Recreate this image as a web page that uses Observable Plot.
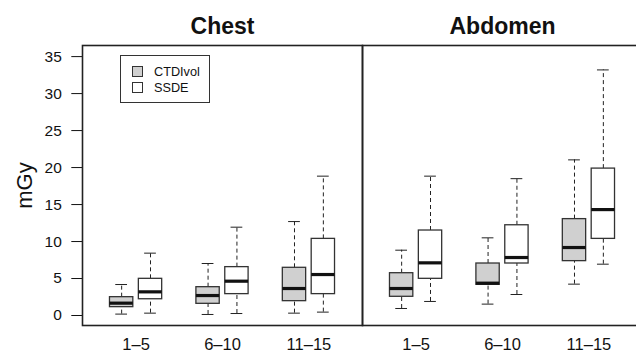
<!DOCTYPE html>
<html><head><meta charset="utf-8">
<script src="https://cdn.jsdelivr.net/npm/d3@7"></script>
<script src="https://cdn.jsdelivr.net/npm/@observablehq/plot@0.6"></script>
<style>
html,body{margin:0;padding:0;overflow:hidden;background:#fff;}
#wrap{position:relative;width:636px;height:354px;overflow:hidden;font-family:"Liberation Sans",Arial,Helvetica,sans-serif;color:#111;}
#chart svg{max-width:none !important;}
#legend{position:absolute;left:120px;top:55px;width:90px;height:48px;border:1px solid #333;box-sizing:border-box;background:#fff;font-size:12.7px;}
.sw{position:absolute;left:11px;width:11px;height:11px;border:1px solid #333;box-sizing:border-box;}
.lt{position:absolute;left:33px;line-height:14px;}
</style></head><body><div id="wrap"><div id="chart"></div><div id="legend"></div></div>
<script>
const panels = ["Chest", "Abdomen"];
const groups = ["1–5", "6–10", "11–15"];
const seriesNames = ["CTDIvol", "SSDE"];
const seriesFill = ["#d0d0d0", "#ffffff"];
const yTicks = [0, 5, 10, 15, 20, 25, 30, 35];
// five-number summaries per age group: [lower whisker, Q1, median, Q3, upper whisker]
const chestCTDIvol = [[0.19, 1.13, 1.67, 2.48, 4.19], [0.14, 1.58, 2.70, 3.83, 7.03], [0.32, 1.94, 3.65, 6.45, 12.7]];
const chestSSDE = [[0.32, 2.20, 3.20, 4.96, 8.43], [0.27, 2.89, 4.64, 6.54, 11.94], [0.46, 2.89, 5.54, 10.36, 18.84]];
const abdomenCTDIvol = [[0.95, 2.53, 3.65, 5.72, 8.83], [1.54, 4.15, 4.37, 7.03, 10.5], [4.24, 7.35, 9.19, 13.03, 21.04]];
const abdomenSSDE = [[1.90, 4.96, 7.12, 11.49, 18.84], [2.84, 7.03, 7.84, 12.2, 18.5], [6.94, 10.36, 14.32, 19.86, 33.2]];

const source = {Chest: [chestCTDIvol, chestSSDE], Abdomen: [abdomenCTDIvol, abdomenSSDE]};
const OFFSET = 0.167, HALF = 0.135, CAP = 0.068;
const rows = [];
for (const p of panels) {
  source[p].forEach((arr, s) => {
    arr.forEach((v, g) => {
      rows.push({panel: p, series: seriesNames[s], cx: g + 1 + (s === 0 ? -OFFSET : OFFSET),
        lo: v[0], q1: v[1], med: v[2], q3: v[3], hi: v[4]});
    });
  });
}

const chart = Plot.plot({
  width: 642, height: 354,
  marginLeft: 82, marginRight: 0, marginTop: 45, marginBottom: 29,
  style: {fontFamily: '"Liberation Sans", Arial, Helvetica, sans-serif', color: "#111", background: "#fff", maxWidth: "none"},
  fx: {domain: panels, padding: 0, label: null},
  x: {domain: [0.38, 3.62]},
  y: {domain: [-1.35, 36.5]},
  color: {domain: seriesNames, range: seriesFill},
  marks: [
    Plot.axisFx({anchor: "top", tickSize: 0, tickPadding: 12, fontSize: 23, fontWeight: "bold", label: null}),
    Plot.axisX({ticks: [1, 2, 3], tickFormat: i => groups[i - 1], tickSize: 0, tickPadding: 13, fontSize: 16.5, label: null}),
    Plot.axisY({ticks: yTicks, tickSize: 10.7, tickPadding: 10, fontSize: 15.5, label: "mGy", labelAnchor: "center", labelArrow: "none", labelOffset: 66}),
    Plot.ruleX(rows, {fx: "panel", x: "cx", y1: "q3", y2: "hi", stroke: "#222", strokeDasharray: "4,3"}),
    Plot.ruleX(rows, {fx: "panel", x: "cx", y1: "lo", y2: "q1", stroke: "#222", strokeDasharray: "4,3"}),
    Plot.ruleY(rows, {fx: "panel", y: "hi", x1: d => d.cx - CAP, x2: d => d.cx + CAP, stroke: "#222"}),
    Plot.ruleY(rows, {fx: "panel", y: "lo", x1: d => d.cx - CAP, x2: d => d.cx + CAP, stroke: "#222"}),
    Plot.rect(rows, {fx: "panel", x1: d => d.cx - HALF, x2: d => d.cx + HALF, y1: "q1", y2: "q3", fill: "series", stroke: "#333", strokeWidth: 1.3}),
    Plot.ruleY(rows, {fx: "panel", y: "med", x1: d => d.cx - HALF, x2: d => d.cx + HALF, stroke: "#111", strokeWidth: 3.2}),
    Plot.frame({stroke: "#222", strokeWidth: 1.6})
  ]
});
chart.querySelectorAll('g[aria-label="y-axis label"] text').forEach(t => t.setAttribute("font-size", 22));
document.getElementById("chart").appendChild(chart);

const legend = document.getElementById("legend");
seriesNames.forEach((name, i) => {
  const sw = document.createElement("div");
  sw.className = "sw"; sw.style.top = (10 + i * 16.3) + "px"; sw.style.background = seriesFill[i];
  const t = document.createElement("div");
  t.className = "lt"; t.style.top = (8.5 + i * 16.3) + "px"; t.textContent = name;
  legend.appendChild(sw); legend.appendChild(t);
});
</script></body></html>
